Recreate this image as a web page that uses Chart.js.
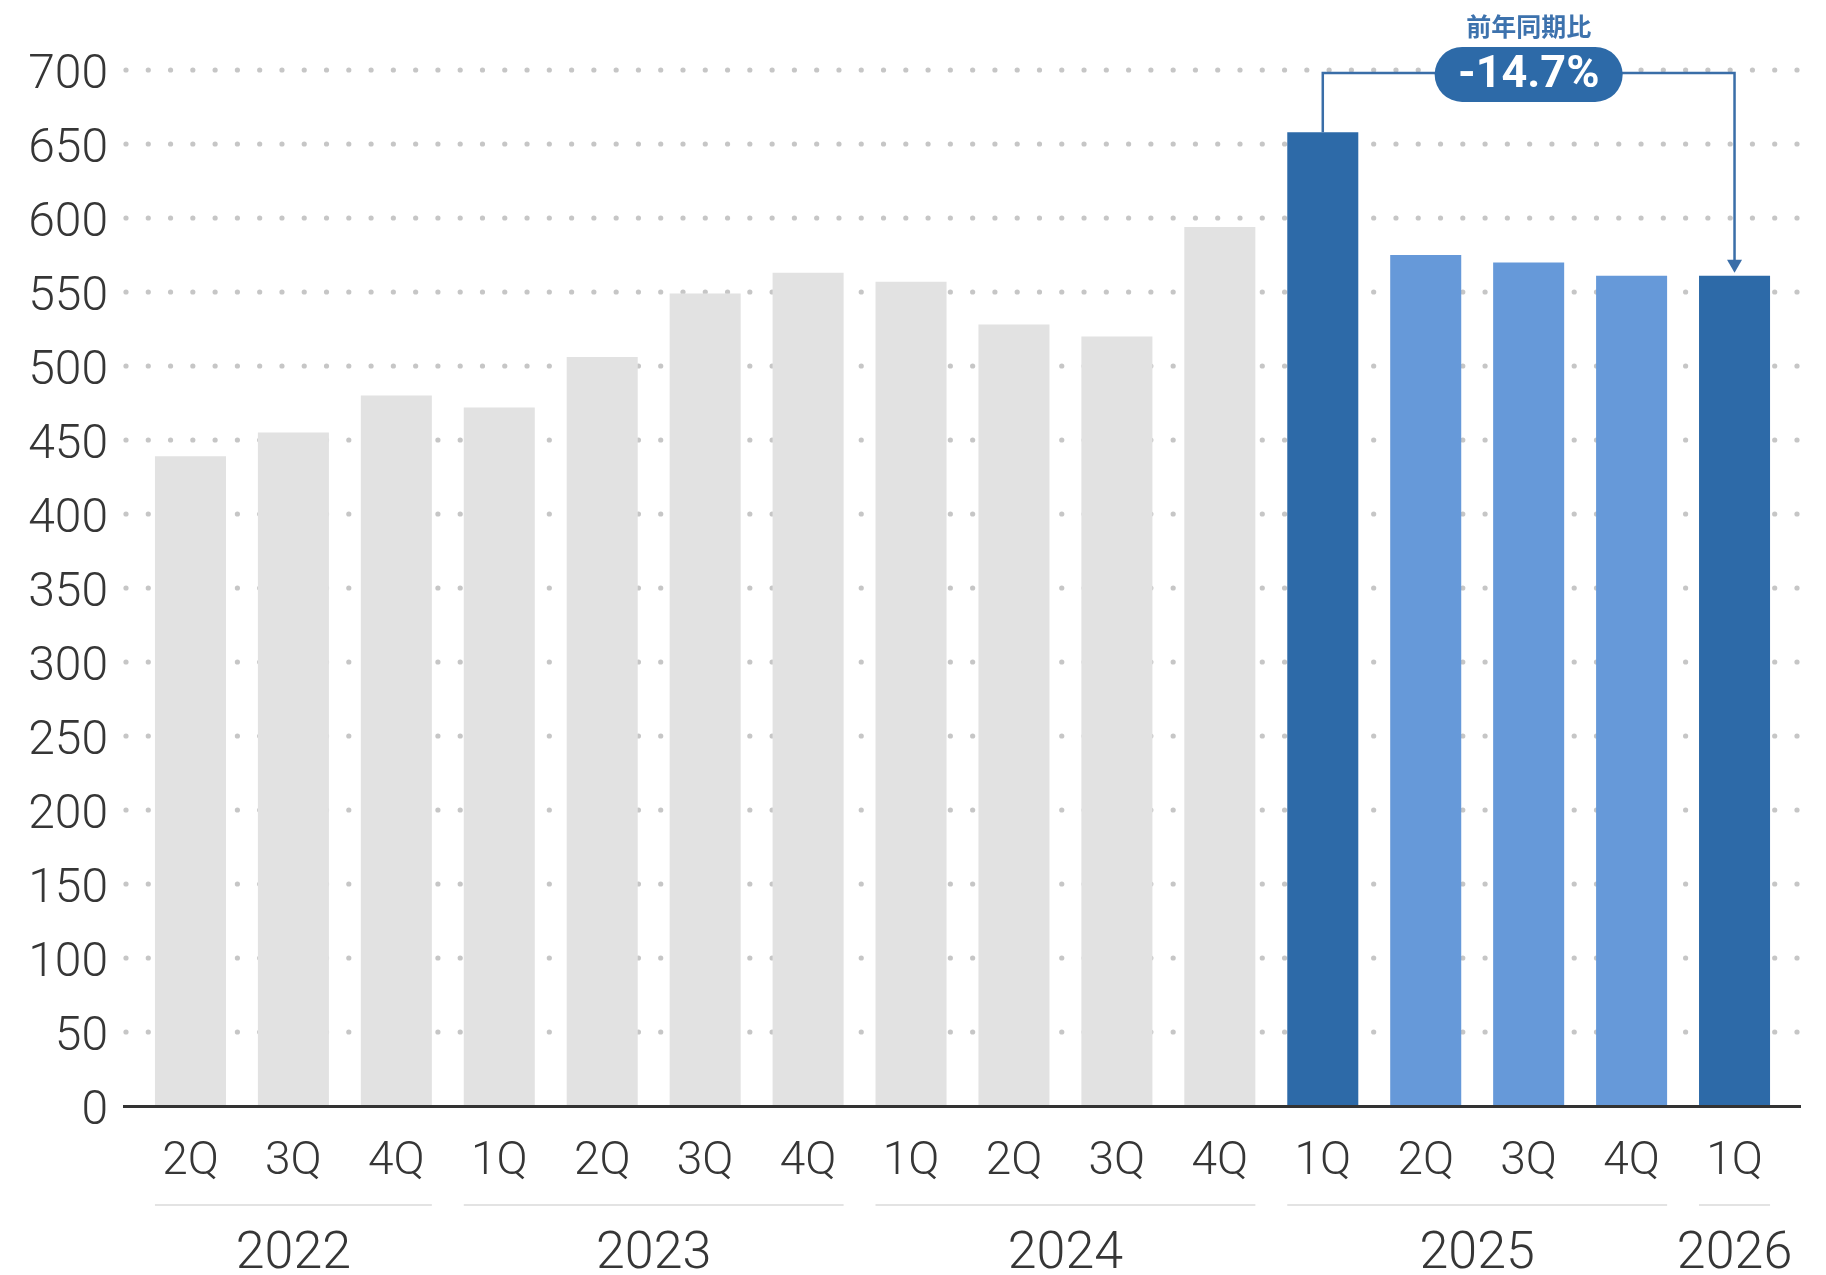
<!DOCTYPE html>
<html>
<head>
<meta charset="utf-8">
<title>Quarterly chart</title>
<script src="https://cdn.jsdelivr.net/npm/chart.js"></script>
<style>
  html, body { margin: 0; padding: 0; background: #fff; }
  #wrap { width: 1826px; height: 1275px; }
</style>
</head>
<body>
<div id="wrap"><canvas id="myChart" width="1826" height="1275"></canvas></div>
<script>
// quarters on the axis, years grouped underneath
const quarters = ['2Q', '3Q', '4Q', '1Q', '2Q', '3Q', '4Q', '1Q', '2Q', '3Q', '4Q', '1Q', '2Q', '3Q', '4Q', '1Q'];
const years = ['2022', '2023', '2024', '2025', '2026'];
const yearSpans = [3, 4, 4, 4, 1];
const values = [439, 455, 480, 472, 506, 549, 563, 557, 528, 520, 594, 658, 575, 570, 561, 561];
const yTicks = [0, 50, 100, 150, 200, 250, 300, 350, 400, 450, 500, 550, 600, 650, 700];
// the two quarters compared year on year
const compareFrom = 11;
const compareTo = 15;

const GRAY = '#e2e2e2';
const DARK = '#2d6aa8';
const LIGHT = '#6699d9';
const TEXT = '#363636';
const FONT = 'Roboto, "Noto Sans", sans-serif';

const barColors = values.map((v, i) => {
  if (i === compareFrom || i === compareTo) return DARK;
  if (i > compareFrom) return LIGHT;
  return GRAY;
});

const yoy = ((values[compareTo] / values[compareFrom] - 1) * 100).toFixed(1) + '%';

// dotted grid rows, drawn behind the bars and a bit past the plot area
const dottedGrid = {
  id: 'dottedGrid',
  beforeDatasetsDraw(chart) {
    const ctx = chart.ctx;
    const y = chart.scales.y;
    const x0 = chart.chartArea.left - 13;
    const x1 = chart.chartArea.right + 14;
    ctx.save();
    ctx.fillStyle = '#c6c6c6';
    y.ticks.forEach(t => {
      if (t.value === 0) return;
      const py = y.getPixelForValue(t.value);
      for (let px = x0; px <= x1; px += 22.28) {
        ctx.beginPath();
        ctx.arc(px, py, 2.6, 0, Math.PI * 2);
        ctx.fill();
      }
    });
    ctx.restore();
  }
};

// baseline, year groups and the year-on-year bracket
const extras = {
  id: 'extras',
  afterDatasetsDraw(chart) {
    const ctx = chart.ctx;
    const area = chart.chartArea;
    const bars = chart.getDatasetMeta(0).data;
    const y = chart.scales.y;

    ctx.save();
    // baseline
    ctx.strokeStyle = '#333';
    ctx.lineWidth = 3;
    ctx.beginPath();
    ctx.moveTo(area.left - 16, y.getPixelForValue(0) + 0.5);
    ctx.lineTo(area.right + 15, y.getPixelForValue(0) + 0.5);
    ctx.stroke();

    // year groups
    let start = 0;
    years.forEach((yr, k) => {
      const first = bars[start];
      const last = bars[start + yearSpans[k] - 1];
      const l = first.x - first.width / 2;
      const r = last.x + last.width / 2;
      ctx.strokeStyle = '#e3e3e3';
      ctx.lineWidth = 2;
      ctx.beginPath();
      ctx.moveTo(l, area.bottom + 99);
      ctx.lineTo(r, area.bottom + 99);
      ctx.stroke();
      ctx.fillStyle = TEXT;
      ctx.font = '300 52px ' + FONT;
      ctx.textAlign = 'center';
      ctx.textBaseline = 'middle';
      ctx.fillText(yr, (l + r) / 2, area.bottom + 149);
      start += yearSpans[k];
    });

    // bracket from one quarter to the same quarter a year later
    const a = bars[compareFrom];
    const b = bars[compareTo];
    const by = y.getPixelForValue(698);
    ctx.strokeStyle = '#3a6ea8';
    ctx.lineWidth = 2.5;
    ctx.beginPath();
    ctx.moveTo(a.x, a.y);
    ctx.lineTo(a.x, by);
    ctx.lineTo(b.x, by);
    ctx.lineTo(b.x, b.y - 14);
    ctx.stroke();
    ctx.fillStyle = '#3a6ea8';
    ctx.beginPath();
    ctx.moveTo(b.x, b.y - 3);
    ctx.lineTo(b.x - 7.5, b.y - 16);
    ctx.lineTo(b.x + 7.5, b.y - 16);
    ctx.closePath();
    ctx.fill();

    // pill with the change
    const cx = (a.x + b.x) / 2;
    const cy = by + 1.5;
    const w = 188, h = 55;
    ctx.fillStyle = DARK;
    ctx.beginPath();
    ctx.roundRect(cx - w / 2, cy - h / 2, w, h, h / 2);
    ctx.fill();
    ctx.fillStyle = '#fff';
    ctx.font = 'bold 45px ' + FONT;
    ctx.textAlign = 'center';
    ctx.textBaseline = 'middle';
    ctx.fillText(yoy, cx, cy + 1);

    ctx.fillStyle = '#3d72ad';
    ctx.font = 'bold 25px "Noto Sans CJK JP", sans-serif';
    ctx.fillText('前年同期比', cx, cy - 48);
    ctx.restore();
  }
};

new Chart(document.getElementById('myChart'), {
  type: 'bar',
  data: {
    labels: quarters,
    datasets: [{
      data: values,
      backgroundColor: barColors,
      borderWidth: 0,
      categoryPercentage: 1,
      barPercentage: 0.69
    }]
  },
  options: {
    responsive: false,
    animation: false,
    events: [],
    layout: { padding: { top: 70, right: 40, left: 0, bottom: 0 } },
    plugins: { legend: { display: false }, tooltip: { enabled: false } },
    scales: {
      x: {
        grid: { display: false, drawTicks: false },
        border: { display: false },
        ticks: {
          color: TEXT,
          font: { family: FONT, size: 46, weight: '300' },
          padding: 29,
          maxRotation: 0,
          autoSkip: false
        },
        afterFit(scale) { scale.height = 169; }
      },
      y: {
        min: 0,
        max: 700,
        afterBuildTicks(scale) { scale.ticks = yTicks.map(v => ({ value: v })); },
        grid: { display: false, drawTicks: false },
        border: { display: false },
        ticks: {
          color: TEXT,
          font: { family: FONT, size: 48, weight: '300' },
          padding: 31,
          labelOffset: 6
        },
        afterFit(scale) { scale.width = 139; }
      }
    }
  },
  plugins: [dottedGrid, extras]
});
</script>
</body>
</html>
